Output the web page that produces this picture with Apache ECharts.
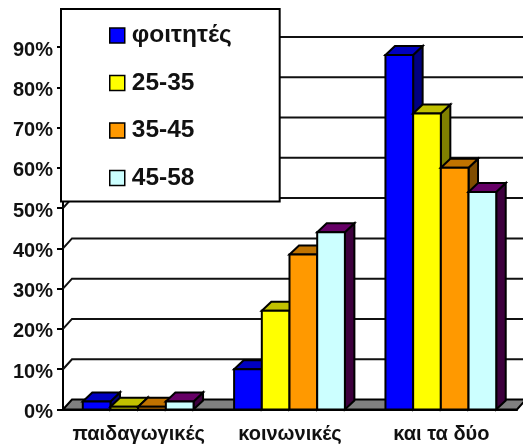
<!DOCTYPE html>
<html>
<head>
<meta charset="utf-8">
<style>html,body{margin:0;padding:0;background:#fff}#chart{width:523px;height:446px}</style>
<script src="https://cdn.jsdelivr.net/npm/echarts@6/dist/echarts.min.js"></script>
</head>
<body>
<div id="chart"></div>
<script>
// Share of answers per group, in percent
const categories = ['παιδαγωγικές', 'κοινωνικές', 'και τα δύο'];
const groups = ['φοιτητές', '25-35', '35-45', '45-58'];
const students = [2, 10, 88];
const age25to35 = [0.7, 24.5, 73.5];
const age35to45 = [0.7, 38.5, 60];
const age45to58 = [2, 44, 54];
const gridTicks = [0, 10, 20, 30, 40, 50, 60, 70, 80, 90];

const seriesValues = [students, age25to35, age35to45, age45to58];
// front, top and side faces of each box
const faces = [
  ['#0000ff', '#0000c0', '#000080'],
  ['#ffff00', '#c0c000', '#808000'],
  ['#ff9900', '#c07300', '#804d00'],
  ['#ccffff', '#660066', '#3d003d']
];

const DEPTH_X = 9.5, DEPTH_Y = 9;
const WALL_X = 9, WALL_Y = 10;
const BAR_SHARE = 0.183;
const INK = '#000';

function poly(points, fill, width) {
  return {
    type: 'polygon',
    shape: { points },
    style: { fill, stroke: INK, lineWidth: width, lineJoin: 'miter' }
  };
}

// Back wall lines, their slanted returns along the side wall, and the floor
function renderWall(params, api) {
  const tick = api.value(1);
  const sys = params.coordSys;
  const y = api.coord([0, tick])[1];
  const left = sys.x, right = sys.x + sys.width;
  const children = [];
  if (tick === 0) {
    children.push({
      type: 'polygon',
      shape: { points: [[left, y], [left + WALL_X, y - WALL_Y], [right + WALL_X, y - WALL_Y], [right, y]] },
      style: { fill: '#808080', stroke: INK, lineWidth: 2 }
    });
  } else {
    children.push({
      type: 'polyline',
      shape: { points: [[left, y], [left + WALL_X, y - WALL_Y], [right + WALL_X, y - WALL_Y]] },
      style: { fill: 'none', stroke: '#111', lineWidth: 2 }
    });
  }
  return { type: 'group', children };
}

function boxRenderer(seriesIndex) {
  return function (params, api) {
    const cat = api.value(0);
    const value = api.value(1);
    const band = api.size([1, 0])[0];
    const w = band * BAR_SHARE;
    const center = api.coord([cat, 0])[0] - 0.5;
    const x0 = center + (seriesIndex - 2) * w;
    const x1 = x0 + w;
    const y0 = api.coord([cat, 0])[1];
    const y1 = api.coord([cat, value])[1];
    const f = faces[seriesIndex];
    return {
      type: 'group',
      children: [
        poly([[x1, y1], [x1 + DEPTH_X, y1 - DEPTH_Y], [x1 + DEPTH_X, y0 - DEPTH_Y], [x1, y0]], f[2], 2),
        poly([[x0, y1], [x0 + DEPTH_X, y1 - DEPTH_Y], [x1 + DEPTH_X, y1 - DEPTH_Y], [x1, y1]], f[1], 2),
        poly([[x0, y1], [x1, y1], [x1, y0], [x0, y0]], f[0], 2)
      ]
    };
  };
}

const chart = echarts.init(document.getElementById('chart'), null, { renderer: 'canvas' });
chart.setOption({
  animation: false,
  backgroundColor: '#fff',
  textStyle: { fontFamily: '"Liberation Sans", Arial, sans-serif' },
  grid: { left: 63, right: 6, top: 47, bottom: 36.5 },
  legend: {
    data: groups.map(name => ({ name, icon: 'rect' })),
    orient: 'vertical',
    left: 61,
    top: 9,
    padding: [14, 48, 11, 48],
    itemWidth: 15,
    itemHeight: 15,
    itemGap: 22.5,
    selectedMode: false,
    backgroundColor: '#fff',
    borderColor: '#000',
    borderWidth: 2,
    textStyle: { fontSize: 24.5, fontWeight: 'bold', color: '#111', padding: [0, 0, 0, 2] },
    itemStyle: { borderColor: '#000', borderWidth: 1.5 }
  },
  xAxis: {
    type: 'category',
    data: categories,
    axisLine: { lineStyle: { color: INK, width: 2 } },
    axisTick: { length: 7, lineStyle: { color: INK, width: 2 } },
    axisLabel: { margin: 15, fontSize: 20, fontWeight: 'bold', color: '#111', interval: 0, hideOverlap: false },
    splitLine: { show: false }
  },
  yAxis: {
    type: 'value',
    min: 0,
    max: 90,
    interval: 10,
    axisLine: { show: true, lineStyle: { color: INK, width: 2 } },
    axisTick: { show: true, length: 6, lineStyle: { color: INK, width: 2 } },
    axisLabel: { margin: 10, fontSize: 20, fontWeight: 'bold', color: '#111', formatter: '{value}%', verticalAlign: 'top', lineHeight: 6 },
    splitLine: { show: false }
  },
  series: [
    {
      name: 'wall',
      type: 'custom',
      silent: true,
      z: 1,
      renderItem: renderWall,
      data: gridTicks.map(t => [0, t]),
      encode: { x: 0, y: 1 }
    },
    ...groups.map((name, i) => ({
      name,
      type: 'custom',
      z: 2,
      itemStyle: { color: faces[i][0] },
      renderItem: boxRenderer(i),
      data: seriesValues[i].map((v, c) => [c, v]),
      encode: { x: 0, y: 1 }
    }))
  ]
});
</script>
</body>
</html>
